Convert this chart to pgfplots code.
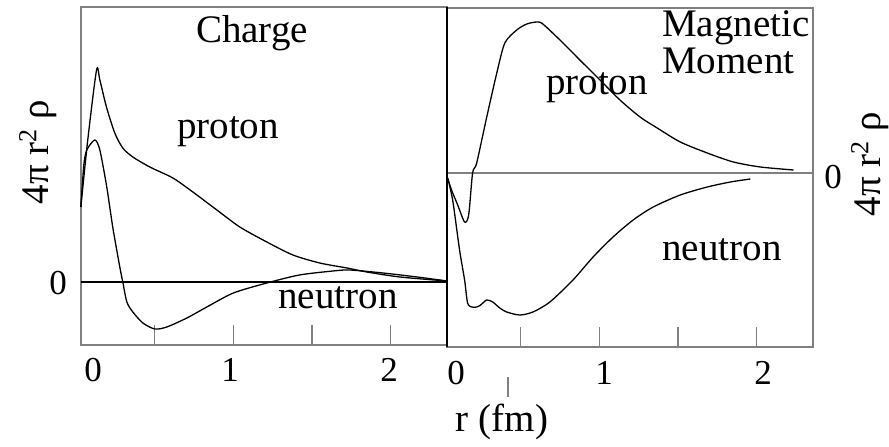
\documentclass[border=0pt]{standalone}
\usepackage{fontspec}
\setmainfont{Liberation Serif}
\usepackage{pgfplots}
\pgfplotsset{compat=1.18}
\definecolor{frame}{gray}{0.5}

\begin{document}
\begin{tikzpicture}
\path[use as bounding box] (0pt,0pt) rectangle (889pt,447pt);
\pgfplotsset{
  panel/.style={
    scale only axis, width=366pt,
    xmin=0.03, xmax=2.36,
    axis line style={draw=frame, line width=1.4pt},
    xtick={0.5,1,1.5,2}, xticklabels={}, xtick pos=bottom,
    ytick=\empty,
    tick align=inside, major tick length=20pt,
    xtick style={draw=frame, line width=1.3pt},
    clip=false,
  },
  curve/.style={black, line width=1.3pt, smooth, tension=0.45},
}
\newcommand{\word}{\fontsize{39}{42}\selectfont}
\newcommand{\digit}{\fontsize{35}{38}\selectfont}
\newcommand{\ylab}{4π r\raisebox{12pt}{\fontsize{26}{28}\selectfont 2} ρ}

% ---- charge densities ----
\begin{axis}[panel, height=338pt, at={(81pt,102pt)}, anchor=south west,
             ymin=-63, ymax=275]
  \addplot[black, line width=1.4pt] coordinates {(0.03,0) (2.36,0)};
  % proton
  \addplot[curve] coordinates {
    (0.029,75) (0.073,142) (0.129,212) (0.150,202) (0.192,175) (0.245,149)
    (0.296,134) (0.360,125) (0.468,115) (0.615,104) (0.742,90) (0.895,72)
    (1.041,55) (1.213,40) (1.379,27) (1.550,19) (1.723,14) (1.850,10)
    (2.060,5) (2.360,1)};
  % neutron
  \addplot[curve] coordinates {
    (0.029,75) (0.048,117) (0.067,132) (0.118,142) (0.150,132) (0.194,95)
    (0.232,55) (0.277,15) (0.296,0) (0.322,-20) (0.360,-30) (0.424,-41)
    (0.500,-47) (0.576,-45) (0.704,-36) (0.831,-25) (1.000,-11) (1.213,-1)
    (1.420,7) (1.634,11) (1.742,12) (1.952,9) (2.170,5) (2.360,1)};
\end{axis}

% ---- magnetization densities ----
\begin{axis}[panel, height=339pt, at={(447pt,100pt)}, anchor=south west,
             ymin=-174, ymax=165]
  \addplot[frame, line width=1.3pt] coordinates {(0.03,0) (2.36,0)};
  % proton
  \addplot[curve] coordinates {
    (0.034,-5) (0.059,-17) (0.098,-32) (0.142,-49) (0.168,-42) (0.193,0)
    (0.219,10) (0.283,56) (0.347,100) (0.398,130) (0.474,143) (0.538,149)
    (0.602,151) (0.640,149) (0.749,133) (0.876,113) (1.004,93) (1.131,73)
    (1.259,56) (1.368,45) (1.515,31) (1.687,20) (1.853,11) (2.025,6)
    (2.236,3)};
  % neutron
  \addplot[curve] coordinates {
    (0.034,-5) (0.066,-27) (0.110,-77) (0.142,-107) (0.161,-130) (0.187,-134)
    (0.219,-134) (0.244,-132) (0.283,-127) (0.321,-129) (0.366,-135)
    (0.410,-139) (0.493,-142) (0.577,-139) (0.685,-129) (0.832,-107)
    (0.960,-84) (1.087,-64) (1.215,-47) (1.343,-34) (1.515,-22) (1.687,-14)
    (1.834,-9) (1.961,-6)};
\end{axis}

% shared border between the panels
\draw[black, line width=2pt] (447pt,100pt) -- (447pt,440pt);

% panel titles and curve names
\node[font=\word] at (252pt,414pt) {Charge};
\node[font=\word] at (228pt,315pt) {proton};
\node[font=\word] at (338pt,149pt) {neutron};
\node[font=\word, anchor=west, inner sep=0pt] at (662pt,419pt) {Magnetic};
\node[font=\word, anchor=west, inner sep=0pt] at (662pt,386pt) {Moment};
\node[font=\word] at (597pt,359pt) {proton};
\node[font=\word] at (722pt,197pt) {neutron};

% axis numbers
\node[font=\digit] at (58pt,164pt) {0};
\node[font=\digit] at (833pt,270pt) {0};
\node[font=\digit] at (93pt,77pt) {0};
\node[font=\digit] at (230pt,77pt) {1};
\node[font=\digit] at (389pt,77pt) {2};
\node[font=\digit] at (456pt,74pt) {0};
\node[font=\digit] at (604pt,74pt) {1};
\node[font=\digit] at (763pt,74pt) {2};

% axis titles
\draw[frame, line width=1.3pt] (508pt,70pt) -- (508pt,50pt);
\node[font=\word] at (502pt,25pt) {r (fm)};
\node[font=\word, rotate=90] at (38pt,295pt) {\ylab};
\node[font=\word, rotate=90] at (870pt,283pt) {\ylab};
\end{tikzpicture}
\end{document}
